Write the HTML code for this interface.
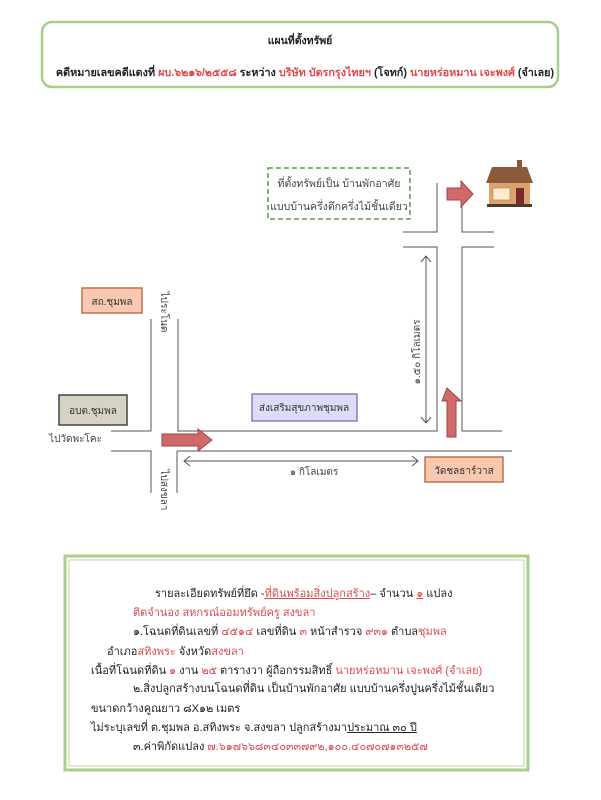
<!DOCTYPE html>
<html><head><meta charset="utf-8"><style>
html,body{margin:0;padding:0;background:#fff;}
body{width:601px;height:800px;position:relative;overflow:hidden;font-family:"Liberation Sans","DejaVu Sans",sans-serif;}
.t{position:absolute;font-size:11px;color:#222;white-space:nowrap;line-height:14px;}
.r{color:#e0494a;}
</style></head><body>
<svg width="601" height="800" style="position:absolute;left:0;top:0" xmlns="http://www.w3.org/2000/svg">
<rect x="42" y="22" width="516" height="65" rx="10" fill="#fff" stroke="#a8cf8a" stroke-width="2.5"/>
<text x="300" y="44" font-size="10.5" font-weight="bold" text-anchor="middle" fill="#222">แผนที่ตั้งทรัพย์</text>
<text x="305" y="76" font-size="10.8" font-weight="bold" text-anchor="middle" fill="#222">คดีหมายเลขคดีแดงที่ <tspan fill="#e0494a">ผบ.๖๒๑๖/๒๕๕๘</tspan> ระหว่าง <tspan fill="#e0494a">บริษัท บัตรกรุงไทยฯ</tspan> (โจทก์) <tspan fill="#e0494a">นายหร่อหมาน เจะพงศ์</tspan> (จำเลย)</text>

<rect x="268" y="168" width="142" height="51" fill="none" stroke="#5a9a4a" stroke-width="1.5" stroke-dasharray="5,3"/>
<text x="339" y="187" font-size="10.5" text-anchor="middle" fill="#444">ที่ตั้งทรัพย์เป็น  บ้านพักอาศัย</text>
<text x="339" y="210" font-size="10.5" text-anchor="middle" fill="#444">แบบบ้านครึ่งตึกครึ่งไม้ชั้นเดียว</text>

<g stroke="#555" stroke-width="1" fill="none">
<polyline points="437,183 437,232 403,232"/>
<polyline points="462,183 462,232 494,232"/>
<polyline points="403,247 437,247 437,431 178,431 178,319"/>
<polyline points="494,247 462,247 462,431 502,431"/>
<line x1="177" y1="451" x2="512" y2="451"/>
<polyline points="111,431 151,431 151,319"/>
<polyline points="111,451 151,451 151,493"/>
<line x1="177" y1="451" x2="177" y2="493"/>
<line x1="184" y1="461" x2="418" y2="461"/>
<polyline points="190,456 184,461 190,466"/>
<polyline points="412,456 418,461 412,466"/>
<line x1="426" y1="256" x2="426" y2="423"/>
<polyline points="421,262 426,256 431,262"/>
<polyline points="421,417 426,423 431,417"/>
</g>

<polygon points="162,434 198,434 198,429 212,440 198,451 198,446 162,446" fill="#d06a6a" stroke="#a04545" stroke-width="1"/>
<polygon points="447,388 461,401 456,401 456,437 447,437 447,401 442,401" fill="#d06a6a" stroke="#a04545" stroke-width="1"/>
<polygon points="447,188 461,188 461,181 473,194 461,207 461,200 447,200" fill="#d06a6a" stroke="#a04545" stroke-width="1"/>

<rect x="517" y="160" width="5" height="8" fill="#8b5a3c"/>
<polygon points="492,167 527,167 533,183 486,183" fill="#8b5a3c"/>
<rect x="489" y="183" width="41" height="21" fill="#d9a46e"/>
<rect x="493" y="188" width="17" height="12" fill="#fbeed0" stroke="#c8905a" stroke-width="0.8"/>
<rect x="516" y="188" width="8" height="16" fill="#7a2a2a"/>
<rect x="487" y="204" width="45" height="3" fill="#4a3a30"/>

<rect x="82" y="288" width="60" height="25" fill="#f8c8b0" stroke="#c0704a" stroke-width="1.5"/>
<text x="112" y="305" font-size="10" text-anchor="middle" fill="#333">สถ.ชุมพล</text>
<rect x="59" y="395" width="68" height="30" fill="#d6d3c4" stroke="#444" stroke-width="1.5"/>
<text x="93" y="414" font-size="10" text-anchor="middle" fill="#333">อบต.ชุมพล</text>
<rect x="252" y="394" width="105" height="27" fill="#dcdcf8" stroke="#6868b0" stroke-width="1.2"/>
<text x="304" y="411" font-size="10" text-anchor="middle" fill="#333">ส่งเสริมสุขภาพชุมพล</text>
<rect x="425" y="457" width="78" height="25" fill="#f8c8b0" stroke="#c0704a" stroke-width="1.5"/>
<text x="464" y="474" font-size="10" text-anchor="middle" fill="#333">วัดชลธาร์วาส</text>

<text x="49" y="442" font-size="10" fill="#444">ไปวัดพะโคะ</text>
<text x="314" y="475" font-size="10" text-anchor="middle" fill="#444">๑ กิโลเมตร</text>
<text transform="translate(161,312) rotate(90)" font-size="10" text-anchor="middle" fill="#444">ไประโนด</text>
<text transform="translate(161,490) rotate(90)" font-size="10" text-anchor="middle" fill="#444">ไปสงขลา</text>
<text transform="translate(420,352) rotate(-90)" font-size="10" text-anchor="middle" fill="#444">๑.๕๐ กิโลเมตร</text>

<rect x="65" y="556" width="463" height="214" fill="#fff" stroke="#a8cf8a" stroke-width="3"/>
<rect x="69" y="560" width="455" height="206" fill="none" stroke="#b8d8a0" stroke-width="1"/>
</svg>
<div class="t" style="left:155px;top:587px">รายละเอียดทรัพย์ที่ยึด -<span class="r" style="text-decoration:underline">ที่ดินพร้อมสิ่งปลูกสร้าง</span>– จำนวน <span class="r" style="text-decoration:underline">๑</span> แปลง</div>
<div class="t" style="left:133px;top:606px"><span class="r">ติดจำนอง สหกรณ์ออมทรัพย์ครู สงขลา</span></div>
<div class="t" style="left:133px;top:625px">๑.โฉนดที่ดินเลขที่ <span class="r">๔๕๑๔</span>  เลขที่ดิน <span class="r">๓</span> หน้าสำรวจ <span class="r">๙๓๑</span> ตำบล<span class="r">ชุมพล</span></div>
<div class="t" style="left:107px;top:645px">อำเภอ<span class="r">สทิงพระ</span> จังหวัด<span class="r">สงขลา</span></div>
<div class="t" style="left:91px;top:664px">เนื้อที่โฉนดที่ดิน  <span class="r">๑</span> งาน <span class="r">๒๕</span> ตารางวา ผู้ถือกรรมสิทธิ์ <span class="r">นายหร่อหมาน เจะพงศ์ (จำเลย)</span></div>
<div class="t" style="left:133px;top:682px">๒.สิ่งปลูกสร้างบนโฉนดที่ดิน  เป็นบ้านพักอาศัย แบบบ้านครึ่งปูนครึ่งไม้ชั้นเดียว</div>
<div class="t" style="left:91px;top:702px">ขนาดกว้างคูณยาว ๘X๑๒ เมตร</div>
<div class="t" style="left:91px;top:721px">ไม่ระบุเลขที่  ต.ชุมพล อ.สทิงพระ จ.สงขลา     ปลูกสร้างมา<span style="text-decoration:underline">ประมาณ ๓๐ ปี</span></div>
<div class="t" style="left:133px;top:740px">๓.ค่าพิกัดแปลง  <span class="r">๗.๖๑๗๖๖๘๓๔๐๓๓๗๙๒,๑๐๐.๔๐๗๐๗๑๓๒๕๗</span></div>
</body></html>
